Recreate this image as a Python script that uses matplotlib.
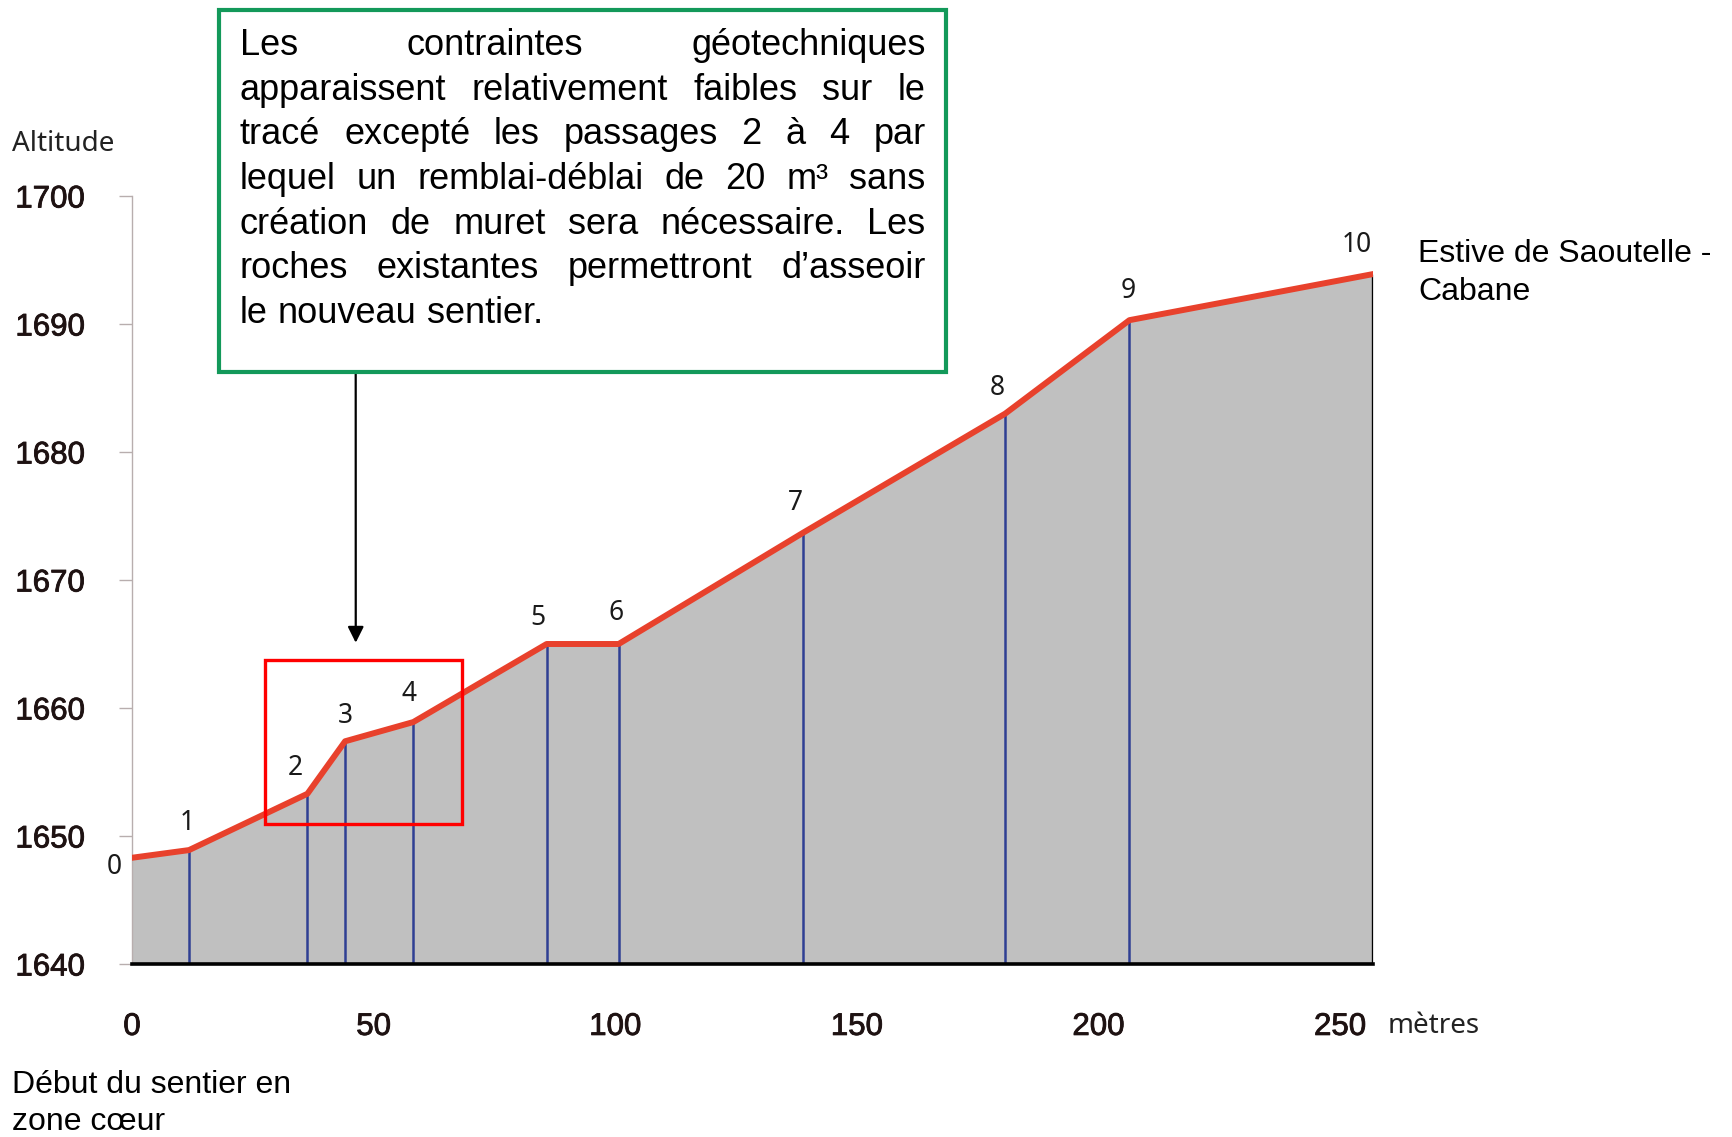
import matplotlib
matplotlib.use('Agg')
import matplotlib.pyplot as plt
import matplotlib.patheffects as pe
from matplotlib.patches import Rectangle

# --- data ------------------------------------------------------------------
point_ids = ['0', '1', '2', '3', '4', '5', '6', '7', '8', '9', '10']
distance_m = [0, 11.8, 36.3, 44.1, 58.2, 85.8, 100.7, 138.9, 180.7, 206.4, 256.8]
altitude_m = [1648.3, 1648.9, 1653.3, 1657.4, 1658.9, 1665.0, 1665.0,
              1673.7, 1683.0, 1690.3, 1693.9]

x_ticks = [0, 50, 100, 150, 200, 250]
y_ticks = [1640, 1650, 1660, 1670, 1680, 1690, 1700]

zone_x = [27.5, 68.2]          # highlighted passage 2 -> 4
zone_alt = [1650.9, 1663.75]
arrow_x = 46.3
arrow_tip_alt = 1665.1

note_lines = [
    "Les contraintes géotechniques",
    "apparaissent relativement faibles sur le",
    "tracé excepté les passages 2 à 4 par",
    "lequel un remblai-déblai de 20 m³ sans",
    "création de muret sera nécessaire. Les",
    "roches existantes permettront d’asseoir",
    "le nouveau sentier.",
]
start_label = ["Début du sentier en", "zone cœur"]
end_label = ["Estive de Saoutelle -", "Cabane"]

# label offsets (points) from each profile point
label_offsets = [(-13, -11.5), (-1, 14.4), (-9, 13.7), (0, 13), (-3, 15),
                 (-6, 13.7), (-2, 17.3), (-6, 16.5), (-6, 13.7), (-1, 16),
                 (-11.5, 16)]

W, H = 1732, 1137
ARIAL = 'Liberation Sans'
MYRIAD = 'Noto Sans'
TICK_COL = '#1e1212'


def fx(px):
    return px / W


def fy(py):
    return 1 - py / H


fig = plt.figure(figsize=(W / 100, H / 100), dpi=100)
ax = fig.add_axes([fx(132), fy(964), (1373 - 132) / W, (964 - 196) / H])

ax.fill_between(distance_m, altitude_m, 1640, color='#c0c0c0', lw=0, zorder=1)
ax.vlines(distance_m[1:-1], 1640, altitude_m[1:-1], color='#2f3f93', lw=1.8, zorder=2)
ax.vlines(distance_m[-1], 1640, altitude_m[-1], color='black', lw=2.4, zorder=2)
ax.plot(distance_m, altitude_m, color='#e8412c', lw=4.3,
        solid_joinstyle='round', zorder=3)

for pid, d, a, off in zip(point_ids, distance_m, altitude_m, label_offsets):
    ax.annotate(pid, xy=(d, a), xytext=off, textcoords='offset points',
                ha='center', va='baseline', fontsize=19, family=MYRIAD,
                color='#1a1a1a', annotation_clip=False)

ax.add_patch(Rectangle((zone_x[0], zone_alt[0]), zone_x[1] - zone_x[0],
                       zone_alt[1] - zone_alt[0], fill=False,
                       edgecolor='#ff0000', lw=2.4, zorder=5, clip_on=False))

ax.set_xlim(0, distance_m[-1])
ax.set_ylim(1640, 1700)
ax.set_xticks(x_ticks)
ax.set_yticks(y_ticks)
ax.tick_params(axis='y', length=9.4, width=1, color='#b8aeae', pad=24.5,
               labelsize=22.5, labelcolor=TICK_COL)
ax.tick_params(axis='x', length=0, pad=34.5, labelsize=22.5, labelcolor=TICK_COL)
heavy = [pe.withStroke(linewidth=0.6, foreground=TICK_COL)]
for lbl in ax.get_xticklabels() + ax.get_yticklabels():
    lbl.set_family(ARIAL)
    lbl.set_path_effects(heavy)

for side in ('top', 'right'):
    ax.spines[side].set_visible(False)
ax.spines['left'].set_color('#b8aeae')
ax.spines['left'].set_linewidth(1)
ax.spines['bottom'].set_color('black')
ax.spines['bottom'].set_linewidth(2.6)
ax.spines['bottom'].set_zorder(4)

fig.text(fx(12), fy(151), 'Altitude', fontsize=20, family=MYRIAD, color='#222222',
         va='baseline')
fig.text(fx(1388), fy(1033), 'mètres', fontsize=20, family=MYRIAD, color='#222222',
         va='baseline')
for i, s in enumerate(end_label):
    fig.text(fx(1418), fy(262 + i * 38.5), s, fontsize=23, family=ARIAL,
             va='baseline')
for i, s in enumerate(start_label):
    fig.text(fx(12), fy(1093 + i * 37), s, fontsize=23, family=ARIAL,
             va='baseline')

# annotation box with justified text
fig.patches.append(Rectangle((fx(219), fy(372)), (946 - 219) / W, (372 - 10) / H,
                             transform=fig.transFigure, facecolor='white',
                             edgecolor='#13995a', lw=3, zorder=6))
renderer = fig.canvas.get_renderer()
left, right = 240, 925.5
for i, line in enumerate(note_lines):
    y = fy(55 + i * 44.7)
    words = line.split()
    texts = [fig.text(0, y, w, fontsize=26, family=ARIAL, va='baseline', zorder=7)
             for w in words]
    widths = [t.get_window_extent(renderer).width for t in texts]
    if i == len(note_lines) - 1 or len(words) == 1:
        gap = 0.278 * 26 * 100 / 72
    else:
        gap = (right - left - sum(widths)) / (len(words) - 1)
    x = left
    for t, w in zip(texts, widths):
        t.set_x(fx(x))
        x += w + gap

ax.annotate('', xy=(arrow_x, arrow_tip_alt), xytext=(fx(355.7), fy(372)),
            textcoords='figure fraction',
            arrowprops=dict(arrowstyle='-|>', color='black', lw=1.6,
                            mutation_scale=24, shrinkA=0, shrinkB=0),
            annotation_clip=False, zorder=6)

fig.savefig('out.png', dpi=100)
